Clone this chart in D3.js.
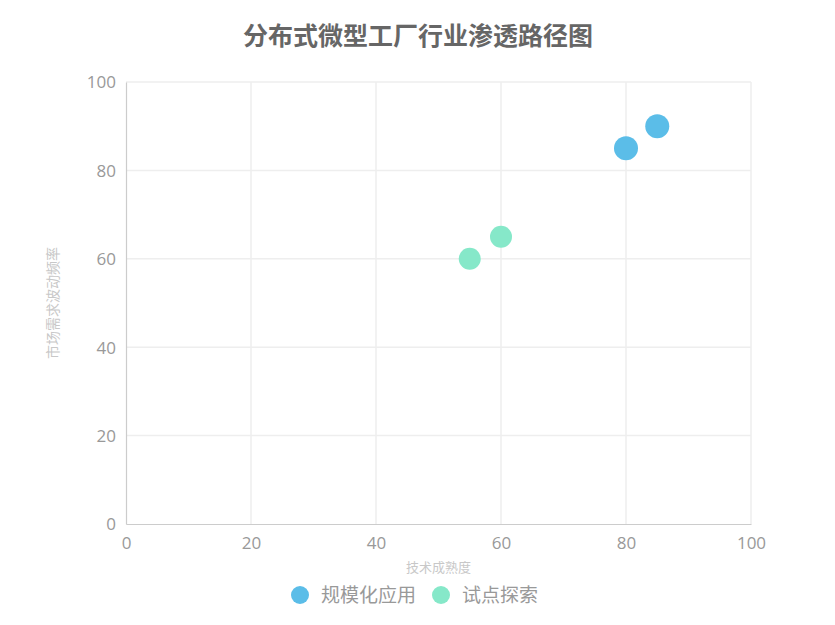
<!DOCTYPE html>
<html>
<head>
<meta charset="utf-8">
<script src="https://cdn.jsdelivr.net/npm/d3@7/dist/d3.min.js"></script>
<style>
  body { margin: 0; background: #fff; font-family: "Noto Sans CJK SC", "Noto Sans", sans-serif; }
</style>
</head>
<body>
<svg width="835" height="625"></svg>
<script>
// series names and points (x = 技术成熟度, y = 市场需求波动频率, size)
var seriesNames = ["规模化应用", "试点探索"];
var seriesColors = ["#5bbde8", "#86e8c9"];
var scaleX = [80, 85];
var scaleY = [85, 90];
var scaleR = [12, 12];
var pilotX = [55, 60];
var pilotY = [60, 65];
var pilotR = [11, 11];
var tickValues = [0, 20, 40, 60, 80, 100];

var svg = d3.select("svg"),
    width = +svg.attr("width"),
    height = +svg.attr("height");

var margin = { left: 126, right: 84, top: 82, bottom: 101 };

var x = d3.scaleLinear().domain([0, 100]).range([margin.left, width - margin.right]);
var y = d3.scaleLinear().domain([0, 100]).range([height - margin.bottom, margin.top]);

// grid
var grid = svg.append("g");
grid.selectAll(".gx").data(tickValues.slice(1)).enter().append("line")
    .attr("x1", function (d) { return x(d); }).attr("x2", function (d) { return x(d); })
    .attr("y1", y(0)).attr("y2", y(100))
    .attr("stroke", "#eeeeee").attr("stroke-width", 1.5);
grid.selectAll(".gy").data(tickValues.slice(1)).enter().append("line")
    .attr("y1", function (d) { return y(d); }).attr("y2", function (d) { return y(d); })
    .attr("x1", x(0)).attr("x2", x(100))
    .attr("stroke", "#eeeeee").attr("stroke-width", 1.5);

// axes
var xAxis = svg.append("g")
    .attr("transform", "translate(0," + y(0) + ")")
    .call(d3.axisBottom(x).tickValues(tickValues).tickSize(0).tickPadding(10));
var yAxis = svg.append("g")
    .attr("transform", "translate(" + x(0) + ",0)")
    .call(d3.axisLeft(y).tickValues(tickValues).tickSize(0).tickPadding(10));

[xAxis, yAxis].forEach(function (a) {
    a.select(".domain").attr("stroke", "#cccccc").attr("stroke-width", 1.2);
    a.selectAll("text").attr("fill", "#999").style("font-size", "17px")
        .style("font-family", "'Open Sans', 'Noto Sans', sans-serif");
});
xAxis.selectAll("text").attr("dy", "0.9em");
yAxis.selectAll("text").attr("dy", "0.35em");

// axis titles
svg.append("text")
    .attr("x", (x(0) + x(100)) / 2).attr("y", 572)
    .attr("text-anchor", "middle")
    .attr("fill", "#c8c8c8").style("font-size", "13px")
    .text("技术成熟度");
svg.append("text")
    .attr("transform", "translate(58," + (y(0) + y(100)) / 2 + ") rotate(-90)")
    .attr("text-anchor", "middle")
    .attr("fill", "#c8c8c8").style("font-size", "14px")
    .text("市场需求波动频率");

// points
var series = [
    { xs: scaleX, ys: scaleY, rs: scaleR },
    { xs: pilotX, ys: pilotY, rs: pilotR }
];
series.forEach(function (s, i) {
    svg.append("g").selectAll("circle")
        .data(s.xs.map(function (v, j) { return { x: v, y: s.ys[j], r: s.rs[j] }; }))
        .enter().append("circle")
        .attr("cx", function (d) { return x(d.x); })
        .attr("cy", function (d) { return y(d.y); })
        .attr("r", function (d) { return d.r; })
        .attr("fill", seriesColors[i]);
});

// title
svg.append("text")
    .attr("x", 418).attr("y", 45)
    .attr("text-anchor", "middle")
    .attr("fill", "#666").style("font-size", "25px").style("font-weight", "bold")
    .text("分布式微型工厂行业渗透路径图");

// legend
var legendX = [300, 441];
var legend = svg.append("g").selectAll("g").data(seriesNames).enter().append("g")
    .attr("transform", function (d, i) { return "translate(" + legendX[i] + ",595)"; });
legend.append("circle").attr("r", 9).attr("fill", function (d, i) { return seriesColors[i]; });
legend.append("text").attr("x", 21).attr("dy", "0.35em")
    .attr("fill", "#999").style("font-size", "19px")
    .text(function (d) { return d; });
</script>
</body>
</html>
